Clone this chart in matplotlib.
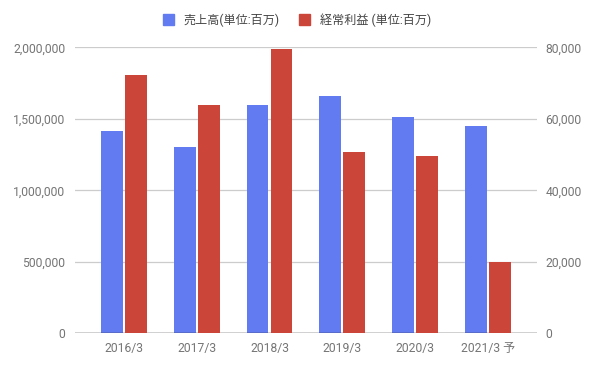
import numpy as np
import matplotlib.pyplot as plt
from matplotlib.patches import Patch

plt.rcParams['font.family'] = ['Roboto', 'Noto Sans CJK JP', 'DejaVu Sans']

categories = ['2016/3', '2017/3', '2018/3', '2019/3', '2020/3', '2021/3 予']
sales = [1418000, 1306000, 1597000, 1660000, 1514000, 1451000]
profit = [72300, 63900, 79400, 50600, 49700, 19900]
sales_label = '売上高(単位:百万)'
profit_label = '経常利益 (単位:百万)'

blue = '#637BF0'
red = '#CC4539'
grey = '#757575'

fig = plt.figure(figsize=(5.94, 3.68), dpi=100)
ax = fig.add_axes([75 / 594, 34.7 / 368, 462 / 594, 286 / 368])
ax2 = ax.twinx()

x = np.arange(len(categories))
w = 0.30
ax.bar(x - 0.167, sales, width=w, color=blue, zorder=3)
ax2.bar(x + 0.163, profit, width=w, color=red, zorder=3)

ax.set_xlim(-0.673, len(categories) - 1 + 0.673)
ax.set_ylim(0, 2000000)
ax2.set_ylim(0, 80000)
ax.set_yticks(np.arange(0, 2000001, 500000))
ax2.set_yticks(np.arange(0, 80001, 20000))
ax.set_yticklabels([f'{v:,}' for v in np.arange(0, 2000001, 500000)])
ax2.set_yticklabels([f'{v:,}' for v in np.arange(0, 80001, 20000)])
ax.set_xticks(x)
ax.set_xticklabels(categories)

ax.grid(axis='y', color='#cccccc', linewidth=0.9, zorder=0)
ax.set_axisbelow(True)
for a in (ax, ax2):
    for s in a.spines.values():
        s.set_visible(False)
    a.tick_params(length=0, labelsize=8.7, colors=grey)
ax.tick_params(axis='y', pad=7)
ax2.tick_params(axis='y', pad=6)
ax.tick_params(axis='x', pad=6)
ax.axhline(0, color='#333333', linewidth=1.0, zorder=4)

handles = [Patch(color=blue, label=sales_label), Patch(color=red, label=profit_label)]
fig.legend(handles=handles, loc='center', bbox_to_anchor=(0.5, 0.946), ncol=2,
           frameon=False, fontsize=8.7, handlelength=0.9, handleheight=0.9,
           handletextpad=0.8, columnspacing=1.6, labelcolor='#444444')

fig.savefig('out.png', dpi=100)
